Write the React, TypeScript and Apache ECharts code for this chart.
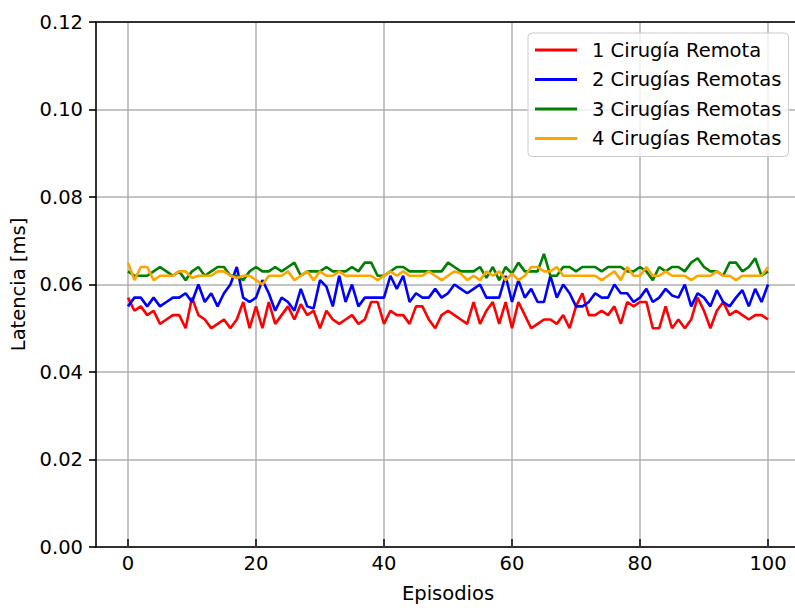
import React, { useEffect, useRef } from "react";
import * as echarts from "echarts";

const seriesNames = [
  "1 Cirugía Remota",
  "2 Cirugías Remotas",
  "3 Cirugías Remotas",
  "4 Cirugías Remotas",
];
const seriesColors = ["#ff0000", "#0000ff", "#008000", "#ffa500"];

const red = [
  0.057, 0.054, 0.055, 0.053, 0.054, 0.051, 0.052, 0.053, 0.053, 0.05,
  0.057, 0.053, 0.052, 0.05, 0.051, 0.052, 0.05, 0.052, 0.056, 0.05,
  0.055, 0.05, 0.056, 0.051, 0.053, 0.055, 0.052, 0.0555, 0.053, 0.054,
  0.05, 0.054, 0.052, 0.051, 0.052, 0.053, 0.051, 0.052, 0.056, 0.056,
  0.051, 0.054, 0.053, 0.053, 0.051, 0.055, 0.055, 0.052, 0.05, 0.053,
  0.054, 0.053, 0.052, 0.051, 0.056, 0.051, 0.054, 0.056, 0.051, 0.056,
  0.05, 0.056, 0.053, 0.05, 0.051, 0.052, 0.052, 0.051, 0.053, 0.05,
  0.055, 0.058, 0.053, 0.053, 0.054, 0.053, 0.055, 0.051, 0.056, 0.055,
  0.056, 0.056, 0.05, 0.05, 0.055, 0.05, 0.052, 0.05, 0.052, 0.057,
  0.054, 0.05, 0.054, 0.056, 0.053, 0.054, 0.053, 0.052, 0.053, 0.053,
  0.052,
];

const blue = [
  0.055, 0.057, 0.057, 0.055, 0.057, 0.055, 0.056, 0.057, 0.057, 0.058,
  0.056, 0.06, 0.056, 0.058, 0.055, 0.058, 0.06, 0.064, 0.057, 0.056,
  0.057, 0.061, 0.058, 0.054, 0.057, 0.056, 0.054, 0.059, 0.055, 0.0545,
  0.061, 0.0595, 0.055, 0.062, 0.056, 0.06, 0.055, 0.057, 0.057, 0.057,
  0.057, 0.062, 0.059, 0.062, 0.056, 0.058, 0.057, 0.057, 0.059, 0.057,
  0.058, 0.06, 0.059, 0.058, 0.059, 0.06, 0.057, 0.057, 0.057, 0.062,
  0.056, 0.061, 0.057, 0.059, 0.056, 0.056, 0.062, 0.057, 0.06, 0.058,
  0.055, 0.055, 0.056, 0.058, 0.057, 0.057, 0.06, 0.058, 0.058, 0.056,
  0.057, 0.059, 0.056, 0.057, 0.059, 0.0575, 0.057, 0.06, 0.055, 0.058,
  0.057, 0.055, 0.0587, 0.056, 0.055, 0.057, 0.0587, 0.055, 0.059, 0.056,
  0.06,
];

const green = [
  0.063, 0.062, 0.062, 0.062, 0.063, 0.064, 0.063, 0.062, 0.063, 0.061,
  0.063, 0.064, 0.062, 0.063, 0.064, 0.064, 0.062, 0.062, 0.061, 0.063,
  0.064, 0.063, 0.063, 0.064, 0.063, 0.064, 0.065, 0.062, 0.063, 0.063,
  0.063, 0.064, 0.063, 0.063, 0.063, 0.064, 0.063, 0.065, 0.065, 0.062,
  0.062, 0.063, 0.064, 0.064, 0.063, 0.063, 0.063, 0.063, 0.063, 0.063,
  0.065, 0.064, 0.063, 0.063, 0.063, 0.064, 0.0615, 0.064, 0.061, 0.064,
  0.0625, 0.065, 0.063, 0.063, 0.063, 0.067, 0.062, 0.062, 0.064, 0.064,
  0.063, 0.064, 0.064, 0.064, 0.063, 0.064, 0.064, 0.064, 0.063, 0.063,
  0.064, 0.063, 0.061, 0.064, 0.063, 0.064, 0.064, 0.063, 0.065, 0.066,
  0.064, 0.063, 0.063, 0.062, 0.065, 0.065, 0.063, 0.064, 0.066, 0.062,
  0.063,
];

const orange = [
  0.065, 0.061, 0.064, 0.064, 0.061, 0.062, 0.062, 0.062, 0.063, 0.063,
  0.0615, 0.062, 0.062, 0.062, 0.063, 0.063, 0.062, 0.0615, 0.062, 0.062,
  0.061, 0.06, 0.062, 0.062, 0.062, 0.063, 0.061, 0.062, 0.063, 0.061,
  0.063, 0.062, 0.062, 0.063, 0.062, 0.062, 0.062, 0.062, 0.062, 0.061,
  0.062, 0.063, 0.062, 0.063, 0.062, 0.062, 0.062, 0.063, 0.062, 0.061,
  0.062, 0.063, 0.0625, 0.061, 0.062, 0.061, 0.063, 0.062, 0.063, 0.061,
  0.0625, 0.061, 0.062, 0.064, 0.064, 0.063, 0.063, 0.064, 0.062, 0.062,
  0.062, 0.062, 0.062, 0.062, 0.061, 0.062, 0.063, 0.061, 0.064, 0.062,
  0.062, 0.064, 0.062, 0.062, 0.063, 0.062, 0.062, 0.062, 0.061, 0.062,
  0.062, 0.062, 0.063, 0.062, 0.062, 0.061, 0.062, 0.062, 0.062, 0.062,
  0.064,
];

const allSeries = [red, blue, green, orange];

// visible x range (right part of the original axes is cropped at the image edge)
const X_MIN = -5;
const X_MAX_VISIBLE = 104.22;

const FONT = "DejaVu Sans";
const FS = 19.5;

export default function App() {
  const ref = useRef<HTMLDivElement>(null);

  useEffect(() => {
    if (!ref.current) return;
    const chart = echarts.init(ref.current, null, { renderer: "svg" });

    const axisLineStyle = { color: "#000", width: 1.6 };
    const gridLineStyle = { color: "#b0b0b0", width: 1.5 };

    const option: any = {
      animation: false,
      backgroundColor: "#fff",
      textStyle: { fontFamily: FONT },
      grid: [
        { left: 96, top: 22, right: 0, bottom: 61, containLabel: false },
        { left: 128, top: 22, width: 640, bottom: 61, containLabel: false },
      ],
      legend: {
        orient: "vertical",
        left: 528,
        top: 33,
        data: seriesNames,
        icon: "rect",
        itemWidth: 42,
        itemHeight: 3,
        itemGap: 9.5,
        padding: [7, 7, 8, 7],
        borderColor: "#cccccc",
        borderWidth: 1,
        borderRadius: 4,
        backgroundColor: "rgba(255,255,255,0.8)",
        selectedMode: false,
        textStyle: {
          fontFamily: FONT,
          fontSize: FS,
          color: "#000",
          lineHeight: 20,
          padding: [0, 0, 0, 10],
        },
        z: 10,
      },
      xAxis: [
        {
          type: "value",
          gridIndex: 0,
          min: X_MIN,
          max: X_MAX_VISIBLE,
          position: "bottom",
          axisLine: { show: true, onZero: false, lineStyle: axisLineStyle },
          axisTick: { show: false },
          axisLabel: { show: false },
          splitLine: { show: false },
        },
        {
          type: "value",
          gridIndex: 0,
          min: X_MIN,
          max: X_MAX_VISIBLE,
          position: "top",
          axisLine: { show: true, onZero: false, lineStyle: axisLineStyle },
          axisTick: { show: false },
          axisLabel: { show: false },
          splitLine: { show: false },
        },
        {
          type: "value",
          gridIndex: 1,
          min: 0,
          max: 100,
          interval: 20,
          position: "bottom",
          name: "Episodios",
          nameLocation: "middle",
          nameGap: 44,
          nameTextStyle: { fontFamily: FONT, fontSize: FS, color: "#000" },
          axisLine: { show: false, onZero: false },
          axisTick: {
            show: true,
            inside: false,
            length: 7,
            lineStyle: axisLineStyle,
          },
          axisLabel: {
            show: true,
            margin: 14,
            fontFamily: FONT,
            fontSize: FS,
            color: "#000",
          },
          splitLine: { show: true, lineStyle: gridLineStyle },
        },
      ],
      yAxis: [
        {
          type: "value",
          gridIndex: 0,
          min: 0,
          max: 0.12,
          interval: 0.02,
          name: "Latencia [ms]",
          nameLocation: "middle",
          nameGap: 66,
          nameTextStyle: { fontFamily: FONT, fontSize: FS, color: "#000" },
          axisLine: { show: true, onZero: false, lineStyle: axisLineStyle },
          axisTick: {
            show: true,
            inside: false,
            length: 7,
            lineStyle: axisLineStyle,
          },
          axisLabel: {
            margin: 13,
            fontFamily: FONT,
            fontSize: FS,
            color: "#000",
            formatter: (v: number) => v.toFixed(2),
          },
          splitLine: { show: true, lineStyle: gridLineStyle },
        },
        {
          type: "value",
          gridIndex: 1,
          min: 0,
          max: 0.12,
          show: false,
          splitLine: { show: false },
        },
      ],
      series: allSeries.map((vals, si) => ({
        name: seriesNames[si],
        type: "line",
        xAxisIndex: 0,
        yAxisIndex: 0,
        data: vals.map((v, i) => [i, v]),
        showSymbol: false,
        symbol: "none",
        color: seriesColors[si],
        lineStyle: { color: seriesColors[si], width: 2.6 },
        z: 3 + si,
      })),
    };

    chart.setOption(option);
    return () => chart.dispose();
  }, []);

  return (
    <div
      ref={ref}
      style={{ position: "fixed", left: 0, top: 0, width: 795, height: 608 }}
    />
  );
}
